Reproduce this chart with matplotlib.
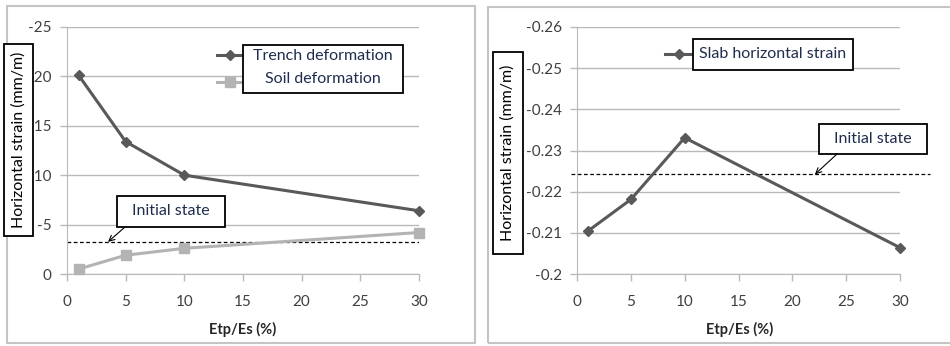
import matplotlib
matplotlib.use("Agg")
import matplotlib.pyplot as plt
from matplotlib.lines import Line2D
from matplotlib.patches import Rectangle
from matplotlib.ticker import FuncFormatter

# data
etp_es = [1, 5, 10, 30]
trench_def = [-20.1, -13.4, -10.0, -6.4]
soil_def = [-0.5, -1.9, -2.6, -4.2]
initial_left = -3.25
slab_strain = [-0.2104, -0.2181, -0.2331, -0.2064]
initial_right = -0.2242

left_yticks = [0, -5, -10, -15, -20, -25]
right_yticks = [-0.2, -0.21, -0.22, -0.23, -0.24, -0.25, -0.26]
x_ticks = [0, 5, 10, 15, 20, 25, 30]

W, H = 950, 346
DARK = "#595959"
LIGHT = "#b3b3b3"
GRID = "#b9b9b9"
TEXT = "#404040"
LEG_TEXT = "#1f2d4d"

plt.rcParams["font.family"] = ["Lato", "DejaVu Sans"]
plt.rcParams["axes.unicode_minus"] = False

fig = plt.figure(figsize=(W / 100, H / 100), dpi=100)


def fx(px):
    return px / W


def fy(py):
    return 1 - py / H


def box(x0, y0, x1, y1, ec="black", lw=1.3, fill=True):
    fig.add_artist(
        Rectangle(
            (fx(x0), fy(y1)),
            fx(x1) - fx(x0),
            fy(y0) - fy(y1),
            transform=fig.transFigure,
            facecolor="white",
            edgecolor=ec,
            linewidth=lw,
            fill=fill,
            zorder=5,
        )
    )


def legend_line(x0, x1, y, color, marker, ms):
    fig.add_artist(
        Line2D(
            [fx(x0), fx((x0 + x1) / 2), fx(x1)],
            [fy(y)] * 3,
            transform=fig.transFigure,
            color=color,
            lw=2.2,
            marker=marker,
            ms=ms,
            markevery=[1],
            zorder=4,
        )
    )


def setup(ax, ylim, yticks, fmt):
    ax.set_xlim(0, 30)
    ax.set_xticks(x_ticks)
    ax.set_ylim(*ylim)
    ax.set_yticks(yticks)
    ax.yaxis.set_major_formatter(FuncFormatter(fmt))
    ax.grid(axis="y", color=GRID, lw=1.0)
    ax.set_axisbelow(True)
    for s in ("top", "right"):
        ax.spines[s].set_visible(False)
    for s in ("left", "bottom"):
        ax.spines[s].set_color(GRID)
    ax.tick_params(colors=GRID, labelcolor=TEXT, labelsize=11, length=5, width=1)
    ax.tick_params(axis="x", pad=10)
    ax.tick_params(axis="y", pad=6)


# panel frames
box(7, 6, 475, 343, ec="#c4c4c4", lw=1.5, fill=False)
box(488, 7, 960, 343, ec="#c4c4c4", lw=1.5, fill=False)

# left panel
ax1 = fig.add_axes([fx(67), fy(274), fx(419) - fx(67), fy(27) - fy(274)])
setup(ax1, (0, -25), left_yticks, lambda v, _: f"{v:g}")
ax1.plot(etp_es, trench_def, color=DARK, lw=2.2, marker="D", ms=5.5, clip_on=False, zorder=3)
ax1.plot(etp_es, soil_def, color=LIGHT, lw=2.2, marker="s", ms=7, clip_on=False, zorder=3)
ax1.axhline(initial_left, color="black", lw=0.9, ls=(0, (3, 2)), zorder=2)
ax1.annotate("", xy=(3.5, initial_left), xytext=(125, H - 227), textcoords="figure pixels",
             arrowprops=dict(arrowstyle="->", color="black", lw=0.8, shrinkA=0, shrinkB=0))

# right panel
ax2 = fig.add_axes([fx(577), fy(274), fx(900) - fx(577), fy(27) - fy(274)])
setup(ax2, (-0.2, -0.26), right_yticks, lambda v, _: f"{v:g}")
ax2.plot(etp_es, slab_strain, color=DARK, lw=2.2, marker="D", ms=5.5, clip_on=False, zorder=3)
ax2.axhline(initial_right, xmin=-0.02, xmax=1.093, color="black", lw=0.9, ls=(0, (3, 2)),
            clip_on=False, zorder=2)
ax2.annotate("", xy=(22.1, initial_right), xytext=(837, H - 154), textcoords="figure pixels",
             arrowprops=dict(arrowstyle="->", color="black", lw=0.8, shrinkA=0, shrinkB=0))

# x labels
for cx in (243, 740):
    fig.text(fx(cx), fy(329), "Etp/Es (%)", ha="center", va="center",
             fontsize=10.5, fontweight="bold", color="#262626")

# y label boxes
box(4, 44, 33, 236)
fig.text(fx(19), fy(140), "Horizontal strain (mm/m)", rotation=90, ha="center", va="center",
         fontsize=11.5, color="black", zorder=6)
box(493, 52, 523, 254)
fig.text(fx(508), fy(153), "Horizontal strain (mm/m)", rotation=90, ha="center", va="center",
         fontsize=11.5, color="black", zorder=6)

# legends
legend_line(217, 243, 55, DARK, "D", 5.5)
legend_line(217, 243, 82, LIGHT, "s", 7)
box(243, 45, 403, 93)
fig.text(fx(323), fy(56), "Trench deformation", ha="center", va="center",
         fontsize=11.5, color=LEG_TEXT, zorder=6)
fig.text(fx(323), fy(79), "Soil deformation", ha="center", va="center",
         fontsize=11.5, color=LEG_TEXT, zorder=6)

legend_line(665, 693, 54, DARK, "D", 5.5)
box(693, 39, 853, 70)
fig.text(fx(773), fy(54), "Slab horizontal strain", ha="center", va="center",
         fontsize=11.5, color=LEG_TEXT, zorder=6)

# initial state callouts
box(117, 196, 225, 227)
fig.text(fx(171), fy(211), "Initial state", ha="center", va="center",
         fontsize=11.5, color=LEG_TEXT, zorder=6)
box(819, 124, 927, 154)
fig.text(fx(873), fy(139), "Initial state", ha="center", va="center",
         fontsize=11.5, color=LEG_TEXT, zorder=6)

fig.savefig("out.png", dpi=100)
